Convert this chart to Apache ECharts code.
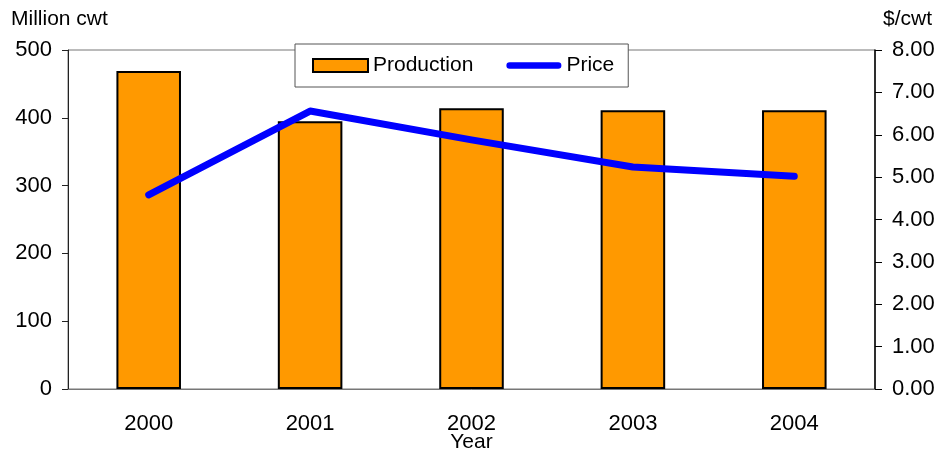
<!DOCTYPE html>
<html>
<head>
<meta charset="utf-8">
<script src="https://cdn.jsdelivr.net/npm/echarts@6/dist/echarts.min.js"></script>
<style>
  html, body { margin: 0; padding: 0; background: #fff; }
  #chart { width: 942px; height: 451px; }
</style>
</head>
<body>
<div id="chart"></div>
<script>
// production (million cwt) and price ($/cwt) by year
const years = ['2000', '2001', '2002', '2003', '2004']
const production = [469, 395, 414, 411, 411]
const price = [4.58, 6.56, 5.88, 5.24, 5.02]

const font = 'Liberation Sans, Arial, sans-serif'
const myChart = echarts.init(document.getElementById('chart'))

// thick rounded line used as the Price legend icon
const lineIcon = 'path://M3.5,0 L56.5,0 A3.5,3.5 0 0 1 56.5,7 L3.5,7 A3.5,3.5 0 0 1 3.5,0 Z'

const option = {
  animation: false,
  textStyle: { fontFamily: font },
  title: [
    { text: 'Million cwt', left: 11, top: 9, padding: 0, textStyle: { fontSize: 21, fontWeight: 'normal', color: '#000' } },
    { text: '$/cwt', left: 883, top: 9, padding: 0, textStyle: { fontSize: 21, fontWeight: 'normal', color: '#000' } },
  ],
  legend: {
    left: 295,
    top: 44,
    padding: [11, 14, 11, 17],
    itemGap: 33,
    itemWidth: 55,
    itemHeight: 13,
    backgroundColor: '#fff',
    borderColor: '#555',
    borderWidth: 1,
    textStyle: { fontSize: 21, color: '#000' },
    data: [
      { name: 'Production', icon: 'rect' },
      { name: 'Price', icon: lineIcon },
    ],
  },
  grid: {
    left: 68, right: 67, top: 50, bottom: 62,
    outerBoundsMode: 'none',
    show: true, borderColor: '#777', borderWidth: 1,
  },
  xAxis: {
    type: 'category',
    data: years,
    name: 'Year',
    nameLocation: 'middle',
    nameGap: 43,
    nameMoveOverlap: false,
    nameTextStyle: { fontSize: 21, color: '#000', verticalAlign: 'top', lineHeight: 21 },
    axisLine: { lineStyle: { color: '#777', width: 1 } },
    axisTick: { length: 8, lineStyle: { color: '#777' } },
    axisLabel: { fontSize: 22, color: '#000', margin: 24 },
  },
  yAxis: [
    {
      type: 'value',
      min: 0,
      max: 500,
      interval: 100,
      axisLine: { show: true, lineStyle: { color: '#222', width: 1 } },
      axisTick: { show: true, length: 6, lineStyle: { color: '#222' } },
      axisLabel: { fontSize: 22, color: '#000', margin: 16 },
      splitLine: { show: false },
    },
    {
      type: 'value',
      min: 0,
      max: 8,
      interval: 1,
      position: 'right',
      axisLine: { show: true, lineStyle: { color: '#000', width: 1.5 } },
      axisTick: { show: true, length: 7, lineStyle: { color: '#000' } },
      axisLabel: { fontSize: 22, color: '#000', margin: 17, formatter: (v) => v.toFixed(2) },
      splitLine: { show: false },
    },
  ],
  series: [
    {
      name: 'Production',
      type: 'bar',
      data: production,
      barWidth: '40%',
      itemStyle: { color: '#FF9900', borderColor: '#000', borderWidth: 2 },
    },
    {
      name: 'Price',
      type: 'line',
      yAxisIndex: 1,
      data: price,
      symbol: 'none',
      lineStyle: { color: '#0000FF', width: 7, cap: 'round', join: 'round' },
      itemStyle: { color: '#0000FF' },
    },
  ],
}

myChart.setOption(option)
</script>
</body>
</html>
